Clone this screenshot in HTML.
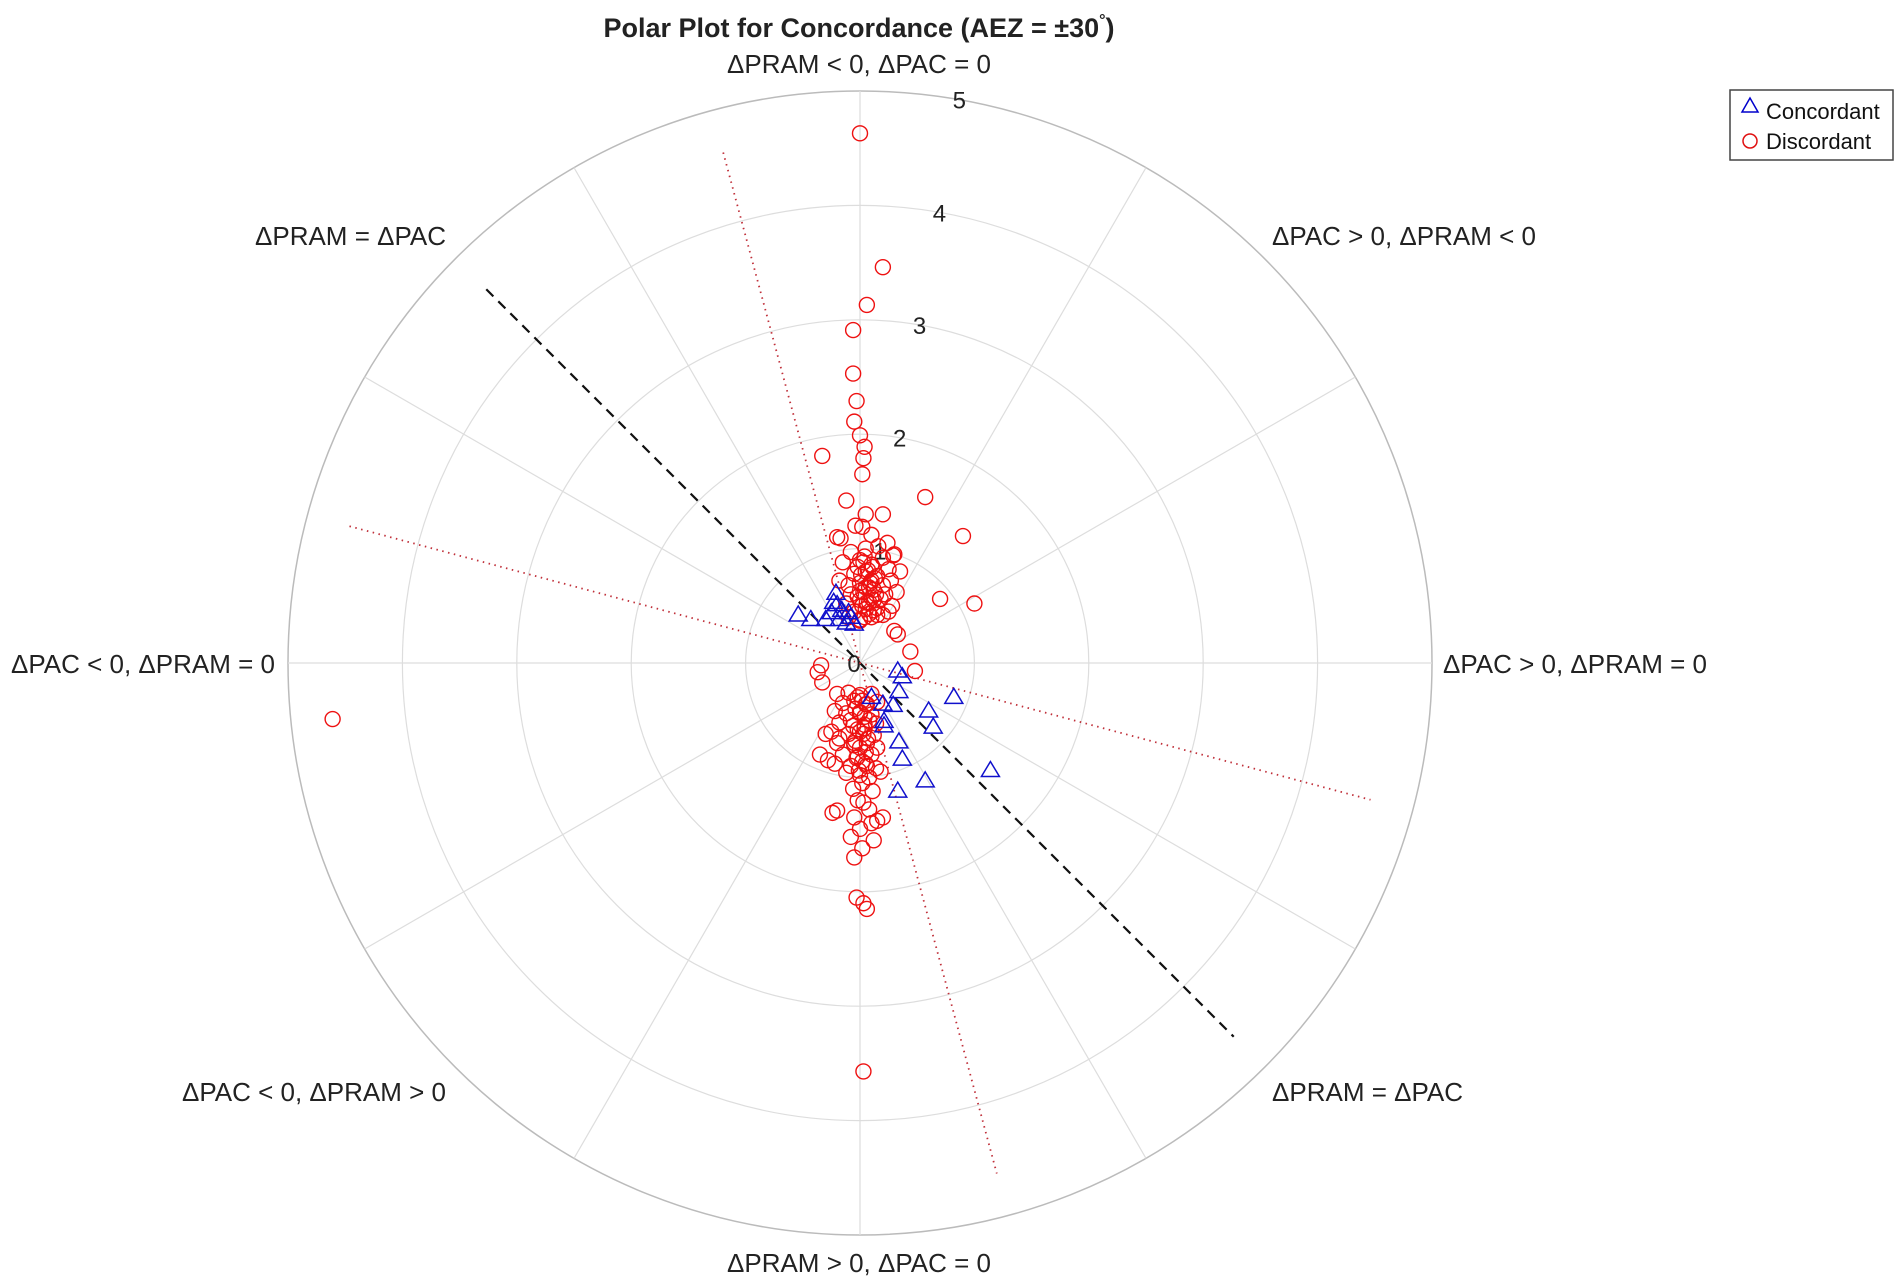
<!DOCTYPE html>
<html><head><meta charset="utf-8">
<style>
html,body{margin:0;padding:0;background:#fff;}
svg{display:block;font-family:"Liberation Sans",Arial,sans-serif;}
</style></head>
<body>
<svg id="chart" width="1900" height="1283" viewBox="0 0 1900 1283" xmlns="http://www.w3.org/2000/svg">
<rect width="1900" height="1283" fill="#fff"/>
<text x="859" y="37" text-anchor="middle" font-size="27" font-weight="bold" fill="#222">Polar Plot for Concordance (AEZ = ±30<tspan dy="-12" font-size="16">°</tspan><tspan dy="12">)</tspan></text>
<g id="grid"></g>
<g id="reflines"></g>
<g id="marks"></g>
<g id="labels" font-size="26" fill="#222">
<text x="859" y="73" text-anchor="middle">ΔPRAM &lt; 0, ΔPAC = 0</text>
<text x="859" y="1272" text-anchor="middle">ΔPRAM &gt; 0, ΔPAC = 0</text>
<text x="1443" y="673" text-anchor="start">ΔPAC &gt; 0, ΔPRAM = 0</text>
<text x="275" y="673" text-anchor="end">ΔPAC &lt; 0, ΔPRAM = 0</text>
<text x="1272" y="245" text-anchor="start">ΔPAC &gt; 0, ΔPRAM &lt; 0</text>
<text x="446" y="245" text-anchor="end">ΔPRAM = ΔPAC</text>
<text x="446" y="1101" text-anchor="end">ΔPAC &lt; 0, ΔPRAM &gt; 0</text>
<text x="1272" y="1101" text-anchor="start">ΔPRAM = ΔPAC</text>
</g>
<g>
<rect x="1730" y="90" width="163" height="70" fill="#fff" stroke="#444" stroke-width="1.5"/>
<polygon points="1750,98 1758,112 1742,112" fill="none" stroke="#0000cc" stroke-width="1.5"/>
<text x="1766" y="119" font-size="22" fill="#111">Concordant</text>
<circle cx="1750" cy="141" r="7" fill="none" stroke="#e01010" stroke-width="1.5"/>
<text x="1766" y="149" font-size="22" fill="#111">Discordant</text>
</g>
</svg>
<script>
// Data in polar-unit cartesian components (horizontal = ΔPAC direction, vertical = -ΔPRAM direction)
const ringTicks = [0,1,2,3,4,5];
const spokeAngles = [0,30,60,90,120,150,180,210,240,270,300,330];
const refLineAngles = [135, 105, 165];
const refLineRadius = [4.62, 4.62, 4.62];
const concU = [-0.54,-0.43,-0.21,-0.2,-0.25,-0.18,-0.12,-0.05,-0.3,-0.16,-0.08,-0.23,-0.1,0.33,0.37,0.34,0.1,0.2,0.29,0.82,0.6,0.64,0.21,0.21,0.34,0.37,1.14,0.57,0.33];
const concV = [0.42,0.38,0.61,0.51,0.44,0.38,0.35,0.34,0.38,0.46,0.4,0.53,0.44,-0.07,-0.12,-0.25,-0.3,-0.36,-0.37,-0.3,-0.42,-0.56,-0.51,-0.55,-0.69,-0.84,-0.94,-1.03,-1.12];
const discU = [0,0.2,0.06,-0.06,-0.06,-0.03,-0.05,0,0.04,-0.33,0.03,0.02,0.57,-0.12,0.02,0.2,0.9,-0.17,-0.04,0.29,0.7,1.0,0.33,0.44,0.48,0.3,
-0.1,0,0.1,0.2,-0.05,0.05,0.15,0.25,-0.12,0,0.08,0.18,0.28,-0.08,0.03,0.12,0.22,-0.1,0,0.1,0.2,-0.05,0.05,0.15,0.25,-0.15,0,0.1,0.2,-0.08,0.05,0.16,0.3,0.35,-0.18,0.32,0.12,0.02,0.27,-0.02,0.24,-0.2,0.1,0.05,
0.0,0.04,0.08,0.12,0.02,0.06,0.1,0.14,0.0,0.05,0.09,0.13,0.01,0.07,0.11,0.03,-0.02,0.08,0.15,0.04,
-0.34,-0.37,-0.33,
-0.2,-0.1,0,0.1,-0.15,-0.05,0.05,0.15,-0.22,-0.12,0,0.1,-0.18,-0.08,0.04,0.14,-0.25,-0.1,0,0.12,-0.2,-0.05,0.06,0.15,-0.15,-0.02,0.1,-0.22,-0.08,0.05,0.14,-0.12,0,0.08,-0.28,-0.18,0.18,0.02,-0.06,0.11,
-0.02,0.02,0.06,-0.04,0.0,0.04,0.08,-0.06,-0.02,0.03,0.07,-0.05,0.0,0.05,-0.03,0.02,0.06,-0.01,0.04,-0.04,
-0.2,-0.24,-0.02,0.03,0.08,-0.05,0.1,0,0.15,-0.08,0.12,0.02,-0.05,-0.03,0.03,0.06,0.03,-4.61,-0.35,0.2,-0.3];
const discV = [4.63,3.46,3.13,2.91,2.53,2.29,2.11,1.99,1.89,1.81,1.79,1.65,1.45,1.42,1.19,1.3,1.11,1.09,1.2,0.94,0.56,0.52,0.25,0.1,-0.07,0.28,
0.4,0.38,0.4,0.42,0.45,0.47,0.48,0.45,0.52,0.55,0.53,0.56,0.5,0.6,0.62,0.64,0.6,0.68,0.7,0.72,0.68,0.78,0.8,0.76,0.82,0.88,0.9,0.86,0.92,0.97,1.0,1.02,0.95,0.8,0.72,0.62,0.55,0.5,0.72,0.84,1.05,1.1,1.12,1.3,
0.37,0.4,0.43,0.46,0.5,0.53,0.57,0.6,0.63,0.66,0.7,0.74,0.77,0.81,0.84,0.88,0.58,0.66,0.42,0.93,
-0.02,-0.08,-0.17,
-0.27,-0.26,-0.28,-0.27,-0.35,-0.33,-0.36,-0.34,-0.42,-0.44,-0.43,-0.45,-0.52,-0.5,-0.54,-0.53,-0.6,-0.62,-0.6,-0.63,-0.7,-0.72,-0.7,-0.74,-0.8,-0.82,-0.8,-0.88,-0.9,-0.88,-0.92,-0.96,-0.98,-1.0,-0.85,-0.66,-0.95,-1.05,-1.1,-1.12,
-0.3,-0.33,-0.36,-0.4,-0.44,-0.47,-0.5,-0.55,-0.58,-0.62,-0.66,-0.7,-0.74,-0.78,-0.83,-0.86,-0.9,-0.94,-0.57,-0.68,
-1.29,-1.31,-1.2,-1.22,-1.28,-1.35,-1.4,-1.45,-1.38,-1.52,-1.55,-1.62,-1.7,-2.05,-2.1,-2.15,-3.57,-0.49,-0.8,-1.35,-0.62];

const CX = 860, CY = 663, RMAX = 5, RPX = 572;
const ns = 'http://www.w3.org/2000/svg';
function rScale(r){ return r / RMAX * RPX; }
function px(u){ return CX + rScale(u); }
function py(v){ return CY - rScale(v); }
function polarX(ang, r){ return CX + rScale(r) * Math.cos(ang*Math.PI/180); }
function polarY(ang, r){ return CY - rScale(r) * Math.sin(ang*Math.PI/180); }
function mk(tag, attrs, parent){ const e = document.createElementNS(ns, tag); for (const k in attrs) e.setAttribute(k, attrs[k]); parent.appendChild(e); return e; }

const grid = document.getElementById('grid');
ringTicks.forEach((t, i) => {
  if (t === 0) return;
  const c = mk('circle', {cx: CX, cy: CY, r: rScale(t), fill: 'none', stroke: i === ringTicks.length-1 ? '#bbb' : '#ddd', 'stroke-width': i === ringTicks.length-1 ? 1.5 : 1.2}, grid);
  
  
});
spokeAngles.forEach(a => {
  const l = mk('line', {x1: CX, y1: CY, x2: polarX(a, RMAX), y2: polarY(a, RMAX), stroke: '#ddd', 'stroke-width': 1.2}, grid);
  
  
});
ringTicks.forEach(t => {
  const tx = mk('text', {x: polarX(80, t) + (t === 0 ? -6 : 0), y: polarY(80, t) + 9, 'font-size': 24, fill: '#222', 'text-anchor': 'middle'}, grid);
  tx.textContent = t;
  
  
});

const ref = document.getElementById('reflines');
refLineAngles.forEach((a, i) => {
  const r = refLineRadius[i];
  const l = mk('line', {x1: polarX(a, r), y1: polarY(a, r), x2: polarX(a + 180, r), y2: polarY(a + 180, r),
    stroke: i === 0 ? '#111' : '#c0303a', 'stroke-width': i === 0 ? 2.2 : 1.8,
    'stroke-dasharray': i === 0 ? '10,7' : '1.5,4.5'}, ref);
  
  
});

const marks = document.getElementById('marks');
discU.forEach((u, i) => {
  const c = mk('circle', {cx: px(u), cy: py(discV[i]), r: 7.5, fill: 'none', stroke: '#ee1111', 'stroke-width': 1.4}, marks);
  
  
});
concU.forEach((u, i) => {
  const x = px(u), y = py(concV[i]);
  const p = mk('polygon', {points: `${x},${y-9} ${x+9},${y+6} ${x-9},${y+6}`, fill: 'none', stroke: '#1010cc', 'stroke-width': 1.5}, marks);
  
  
});
</script>
</body></html>
